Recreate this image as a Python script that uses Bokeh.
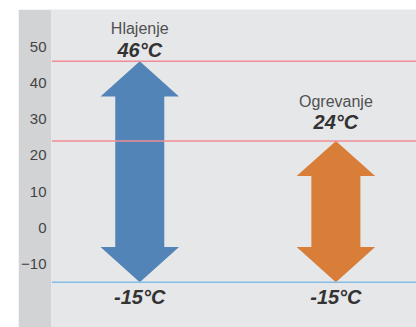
from bokeh.plotting import figure
from bokeh.models import ColumnDataSource, Span, FixedTicker, Spacer, Range1d
from bokeh.layouts import row, column
from bokeh.core.properties import value
from bokeh.embed import file_html
from bokeh.resources import INLINE

# ---- data ----
categories = ["Hlajenje", "Ogrevanje"]
max_temps = [46, 24]
min_temps = [-15, -15]
y_ticks = [-10, 0, 10, 20, 30, 40, 50]

# ---- styles ----
arrow_colors = ["#5384b8", "#d97e39"]
head_half = 0.200    # x data units
shaft_half = 0.125
head_len = 9.7       # y data units
name_offsets = [-33, -39]
temp_offsets = [-11, -19]
low_offset = 15
FONT = "Liberation Sans"

p = figure(width=398, height=318, output_backend="svg", toolbar_location=None,
           x_range=Range1d(-0.450, 1.411), y_range=Range1d(-27.49, 60.28),
           min_border_left=31, min_border_right=0, min_border_top=0, min_border_bottom=0)
p.background_fill_color = "#e6e7e9"
p.border_fill_color = "#d2d3d5"
p.outline_line_color = None
p.xaxis.visible = False
p.xgrid.visible = False
p.ygrid.visible = False

ya = p.yaxis[0]
ya.ticker = FixedTicker(ticks=y_ticks)
ya.axis_line_color = None
ya.major_tick_line_color = None
ya.minor_tick_line_color = None
ya.major_tick_out = 0
ya.major_tick_in = 0
ya.minor_tick_out = 0
ya.major_label_text_font = FONT
ya.major_label_text_font_size = "15px"
ya.major_label_text_color = "#444444"
ya.major_label_standoff = 5

# reference lines
for v in max_temps:
    p.add_layout(Span(location=v, dimension="width", line_color="#f08c96", line_width=1.5))
for v in sorted(set(min_temps)):
    p.add_layout(Span(location=v, dimension="width", line_color="#86bde6", line_width=1.5))

# double arrows
xs, ys = [], []
for i, (hi, lo) in enumerate(zip(max_temps, min_temps)):
    xs.append([i, i + head_half, i + shaft_half, i + shaft_half, i + head_half, i,
               i - head_half, i - shaft_half, i - shaft_half, i - head_half])
    ys.append([hi, hi - head_len, hi - head_len, lo + head_len, lo + head_len, lo,
               lo + head_len, lo + head_len, hi - head_len, hi - head_len])
p.patches(xs, ys, fill_color=arrow_colors, line_color=None)

pos = list(range(len(categories)))
src = ColumnDataSource(dict(
    x=pos, hi=max_temps, lo=min_temps, name=categories,
    hi_txt=[f"{v}°C" for v in max_temps], lo_txt=[f"{v}°C" for v in min_temps],
    name_off=name_offsets, temp_off=temp_offsets))

p.text(x="x", y="hi", text="name", source=src, y_offset="name_off",
       text_align="center", text_baseline="alphabetic",
       text_font=value(FONT), text_font_size="16px", text_color="#505050")
p.text(x="x", y="hi", text="hi_txt", source=src, y_offset="temp_off",
       text_align="center", text_baseline="alphabetic",
       text_font=value(FONT), text_font_size="20px", text_font_style="bold italic",
       text_color="#333333")
p.text(x="x", y="lo", text="lo_txt", source=src, y_offset=low_offset,
       text_align="center", text_baseline="alphabetic",
       text_font=value(FONT), text_font_size="20px", text_font_style="bold italic",
       text_color="#333333")

layout = column(Spacer(width=416, height=9), row(Spacer(width=18, height=318), p))
open("out.html", "w").write(file_html(layout, INLINE))
